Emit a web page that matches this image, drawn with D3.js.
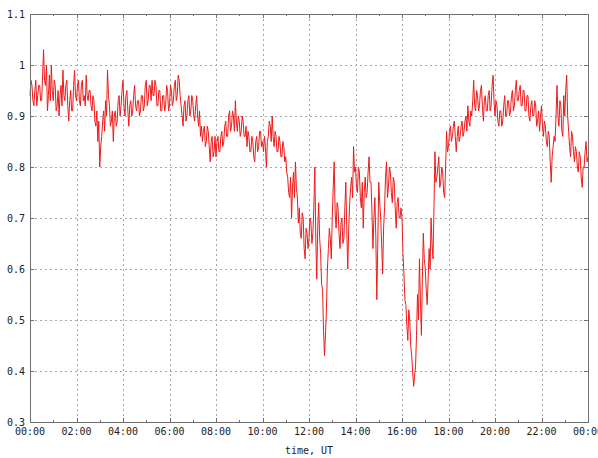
<!DOCTYPE html>
<html><head><meta charset="utf-8">
<script src="https://cdn.jsdelivr.net/npm/d3@7/dist/d3.min.js"></script>
<style>body{margin:0;background:#fff}svg{display:block}</style>
</head><body>
<svg id="chart" width="598" height="458"></svg>
<script>
// sampling step of the series, minutes from 00:00 UT
const stepMinutes = 2.5;
// series values, one row per hour (24 samples each) + final sample at 24:00
const values = [
  0.94,0.97,0.96,0.93,0.92,0.95,0.97,0.92,0.94,0.96,0.96,0.93,0.93,0.98,1.03,0.97,0.96,1.00,0.91,0.94,0.98,0.93,1.00,0.95,
  0.93,0.97,0.96,0.91,0.92,0.95,0.90,0.94,0.96,0.92,0.99,0.94,0.93,0.96,0.97,0.92,0.89,0.93,0.95,0.91,0.91,0.96,0.99,0.94,
  0.93,0.96,0.97,0.93,0.92,0.96,0.97,0.93,0.94,0.92,0.98,0.94,0.93,0.95,0.95,0.92,0.91,0.94,0.93,0.89,0.88,0.91,0.85,0.89,
  0.80,0.84,0.86,0.89,0.91,0.87,0.93,0.90,0.99,0.94,0.92,0.88,0.89,0.91,0.85,0.90,0.91,0.88,0.89,0.93,0.94,0.90,0.92,0.95,
  0.97,0.92,0.90,0.94,0.95,0.91,0.88,0.92,0.93,0.90,0.91,0.94,0.96,0.92,0.91,0.93,0.93,0.90,0.91,0.94,0.94,0.91,0.92,0.96,
  0.97,0.92,0.93,0.96,0.96,0.93,0.97,0.94,0.94,0.97,0.96,0.92,0.92,0.95,0.95,0.91,0.91,0.94,0.94,0.91,0.92,0.96,0.95,0.91,
  0.92,0.96,0.95,0.92,0.93,0.96,0.97,0.93,0.94,0.98,0.97,0.94,0.92,0.90,0.88,0.92,0.93,0.89,0.90,0.93,0.94,0.90,0.91,0.94,
  0.93,0.90,0.89,0.92,0.94,0.90,0.88,0.91,0.86,0.88,0.85,0.87,0.88,0.84,0.85,0.88,0.87,0.84,0.81,0.85,0.86,0.82,0.83,0.86,
  0.82,0.85,0.86,0.83,0.83,0.86,0.87,0.84,0.85,0.88,0.89,0.86,0.86,0.90,0.91,0.87,0.88,0.91,0.90,0.87,0.93,0.89,0.87,0.90,
  0.89,0.86,0.87,0.90,0.89,0.86,0.86,0.88,0.84,0.87,0.86,0.83,0.83,0.86,0.85,0.82,0.81,0.85,0.86,0.83,0.84,0.87,0.87,0.84,
  0.85,0.83,0.86,0.84,0.80,0.85,0.86,0.89,0.88,0.85,0.90,0.86,0.84,0.87,0.86,0.83,0.83,0.86,0.85,0.82,0.82,0.85,0.84,0.81,
  0.82,0.79,0.78,0.75,0.74,0.78,0.70,0.76,0.79,0.74,0.81,0.76,0.74,0.69,0.72,0.67,0.66,0.71,0.70,0.64,0.62,0.68,0.67,0.64,
  0.66,0.70,0.69,0.65,0.67,0.72,0.80,0.66,0.58,0.68,0.73,0.66,0.63,0.57,0.56,0.48,0.43,0.47,0.52,0.60,0.64,0.68,0.66,0.62,
  0.70,0.76,0.81,0.71,0.68,0.73,0.72,0.67,0.64,0.69,0.70,0.65,0.66,0.72,0.77,0.68,0.60,0.68,0.73,0.76,0.78,0.74,0.84,0.79,
  0.80,0.76,0.75,0.80,0.79,0.74,0.72,0.77,0.68,0.75,0.78,0.74,0.75,0.79,0.82,0.77,0.77,0.71,0.64,0.70,0.74,0.66,0.54,0.65,
  0.77,0.73,0.70,0.65,0.59,0.68,0.72,0.78,0.81,0.74,0.76,0.80,0.79,0.75,0.73,0.78,0.77,0.72,0.68,0.73,0.74,0.70,0.70,0.72,
  0.70,0.63,0.59,0.54,0.53,0.49,0.46,0.52,0.50,0.45,0.43,0.40,0.37,0.39,0.41,0.47,0.55,0.50,0.62,0.54,0.47,0.58,0.67,0.62,
  0.60,0.56,0.53,0.58,0.64,0.60,0.70,0.65,0.62,0.72,0.83,0.77,0.78,0.80,0.82,0.76,0.77,0.80,0.79,0.75,0.74,0.80,0.87,0.83,
  0.84,0.87,0.88,0.85,0.86,0.88,0.89,0.86,0.83,0.86,0.88,0.85,0.86,0.88,0.89,0.86,0.87,0.89,0.90,0.87,0.92,0.89,0.88,0.91,
  0.90,0.93,0.97,0.92,0.91,0.95,0.94,0.91,0.92,0.95,0.96,0.92,0.89,0.93,0.94,0.91,0.91,0.94,0.95,0.91,0.92,0.96,0.98,0.93,
  0.90,0.93,0.92,0.89,0.88,0.91,0.91,0.88,0.89,0.92,0.94,0.90,0.90,0.93,0.93,0.90,0.91,0.94,0.95,0.91,0.92,0.95,0.97,0.93,
  0.93,0.95,0.96,0.92,0.92,0.95,0.95,0.91,0.91,0.94,0.94,0.90,0.89,0.92,0.93,0.90,0.90,0.93,0.92,0.88,0.89,0.91,0.87,0.90,
  0.92,0.88,0.86,0.89,0.88,0.85,0.84,0.87,0.86,0.81,0.77,0.82,0.84,0.86,0.85,0.90,0.96,0.90,0.88,0.93,0.92,0.87,0.86,0.94,
  0.90,0.95,0.98,0.90,0.87,0.84,0.82,0.87,0.86,0.83,0.81,0.84,0.83,0.80,0.79,0.83,0.82,0.78,0.76,0.80,0.80,0.83,0.85,0.81,
  0.82
];
const yTicks = [0.3,0.4,0.5,0.6,0.7,0.8,0.9,1.0,1.1];
const xMajorHours = [0,2,4,6,8,10,12,14,16,18,20,22,24];
const xMinorHours = [1,3,5,7,9,11,13,15,17,19,21,23];
const xTitle = "time, UT";

const W = 598, H = 458;
const m = {left: 30, right: 10, top: 14, bottom: 36};
const x0 = m.left, x1 = W - m.right, y0 = m.top, y1 = H - m.bottom;
const day0 = new Date(Date.UTC(2000,0,1,0,0));
const dayEnd = new Date(Date.UTC(2000,0,2,0,0));
const hourDate = h => new Date(day0.getTime() + h*3600e3);

const x = d3.scaleUtc().domain([day0, dayEnd]).range([x0, x1]);
const y = d3.scaleLinear().domain([0.3, 1.1]).range([y1, y0]);
const fmtY = d3.format("~g");
const fmtX = d3.utcFormat("%H:%M");

const svg = d3.select("#chart");
const font = "'DejaVu Sans Mono', 'Liberation Mono', monospace";
const crisp = v => Math.round(v) + 0.5;

// grid
const grid = svg.append("g").attr("stroke", "#a8a8a8").attr("stroke-width", 1).attr("stroke-dasharray", "2,3");
grid.selectAll(".gx").data(xMajorHours.slice(1, -1)).join("line")
  .attr("x1", d => crisp(x(hourDate(d)))).attr("x2", d => crisp(x(hourDate(d))))
  .attr("y1", y0).attr("y2", y1);
grid.selectAll(".gy").data(yTicks.slice(1, -1)).join("line")
  .attr("y1", d => crisp(y(d))).attr("y2", d => crisp(y(d)))
  .attr("x1", x0).attr("x2", x1);

// data line
const pts = values.map((v, i) => ({t: new Date(day0.getTime() + i*stepMinutes*60e3), v}));
svg.append("path").datum(pts)
  .attr("fill", "none").attr("stroke", "#ee1a1a").attr("stroke-width", 1)
  .attr("stroke-linejoin", "miter")
  .attr("d", d3.line().x(d => x(d.t)).y(d => y(d.v)));

// ticks (inside, mirrored)
const tk = svg.append("g").attr("stroke", "#707070").attr("stroke-width", 1);
xMajorHours.forEach(h => {
  const px = crisp(x(hourDate(h)));
  tk.append("line").attr("x1", px).attr("x2", px).attr("y1", y1).attr("y2", y1 - 4);
  tk.append("line").attr("x1", px).attr("x2", px).attr("y1", y0).attr("y2", y0 + 4);
});
xMinorHours.forEach(h => {
  const px = crisp(x(hourDate(h)));
  tk.append("line").attr("x1", px).attr("x2", px).attr("y1", y1).attr("y2", y1 - 2);
  tk.append("line").attr("x1", px).attr("x2", px).attr("y1", y0).attr("y2", y0 + 2);
});
yTicks.forEach(v => {
  const py = crisp(y(v));
  tk.append("line").attr("x1", x0).attr("x2", x0 + 4).attr("y1", py).attr("y2", py);
  tk.append("line").attr("x1", x1).attr("x2", x1 - 4).attr("y1", py).attr("y2", py);
});

// border
svg.append("rect").attr("x", x0 + 0.5).attr("y", y0 + 0.5)
  .attr("width", x1 - x0).attr("height", y1 - y0)
  .attr("fill", "none").attr("stroke", "#707070").attr("stroke-width", 1);

// labels
const lab = svg.append("g").attr("font-family", font).attr("font-size", 10).attr("fill", "#222");
lab.selectAll(".yl").data(yTicks).join("text")
  .attr("x", x0 - 5).attr("y", d => y(d)).attr("dy", "0.35em")
  .attr("text-anchor", "end").text(d => fmtY(d));
lab.selectAll(".xl").data(xMajorHours).join("text")
  .attr("x", d => x(hourDate(d))).attr("y", y1 + 13)
  .attr("text-anchor", "middle").text(d => fmtX(hourDate(d)));
lab.append("text").attr("x", (x0 + x1) / 2).attr("y", y1 + 32)
  .attr("text-anchor", "middle").text(xTitle);
</script>
</body></html>
